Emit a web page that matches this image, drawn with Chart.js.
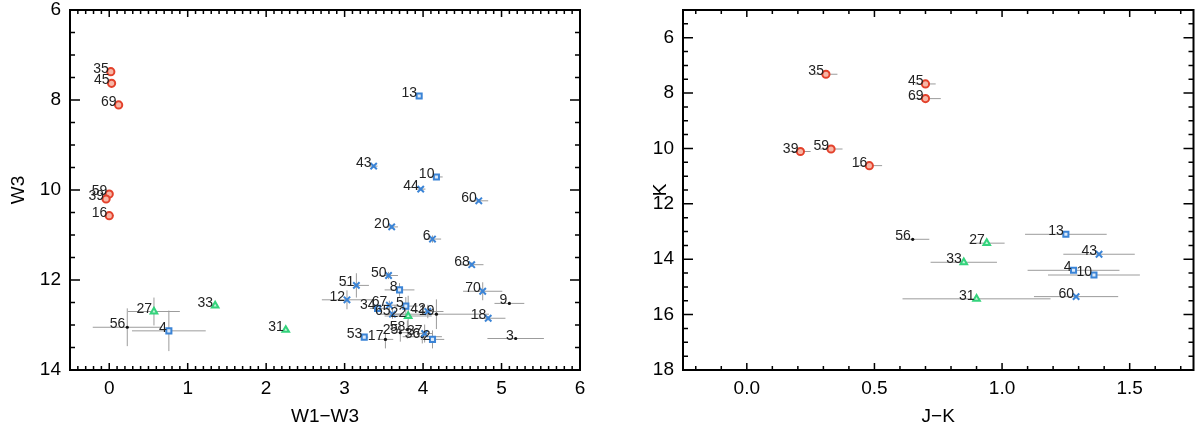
<!DOCTYPE html>
<html>
<head>
<meta charset="utf-8">
<script src="https://cdn.jsdelivr.net/npm/chart.js@4.4.0/dist/chart.umd.min.js"></script>
<style>
  body { margin: 0; background: #fff; }
  #wrap { position: relative; width: 1200px; height: 429px; }
  .box { position: absolute; top: 0; width: 600px; height: 429px; }
</style>
</head>
<body>
<div id="wrap">
  <div class="box" style="left:0"><canvas id="left" width="600" height="429"></canvas></div>
  <div class="box" style="left:600px"><canvas id="right" width="600" height="429"></canvas></div>
</div>
<script>
// ---- left panel: W1-W3 colour vs W3 ----
const w13Ticks = [0, 1, 2, 3, 4, 5, 6];
const w3Ticks = [6, 8, 10, 12, 14];

const redNames = ['35', '45', '69', '59', '39', '16'];
const redW13 = [0.02, 0.03, 0.12, 0.00, -0.04, 0.00];
const redW3 = [7.37, 7.63, 8.11, 10.09, 10.20, 10.57];
const redW13Err = [0.02, 0.02, 0.02, 0.04, 0.03, 0.06];
const redW3Err = [0, 0, 0, 0, 0, 0];

const greenNames = ['27', '33', '31', '22'];
const greenW13 = [0.57, 1.35, 2.25, 3.81];
const greenW3 = [12.70, 12.57, 13.11, 12.80];
const greenW13Err = [0.33, 0.03, 0.03, 0.30];
const greenW3Err = [0.31, 0.02, 0.02, 0.45];

const squareNames = ['13', '10', '8', '5', '34', '53', '2', '4'];
const squareW13 = [3.95, 4.17, 3.70, 3.78, 3.42, 3.25, 4.12, 0.76];
const squareW3 = [7.91, 9.71, 12.22, 12.58, 12.63, 13.27, 13.32, 13.13];
const squareW13Err = [0.02, 0.08, 0.19, 0.15, 0.10, 0.05, 0.15, 0.47];
const squareW3Err = [0.02, 0.05, 0.15, 0.20, 0.10, 0.05, 0.20, 0.45];

const crossNames = ['43', '44', '60', '20', '6', '68', '50', '51', '70', '12', '67', '65', '18', '42', '37'];
const crossW13 = [3.37, 3.97, 4.71, 3.60, 4.12, 4.62, 3.56, 3.15, 4.76, 3.03, 3.57, 3.61, 4.83, 4.06, 4.02];
const crossW3 = [9.47, 9.98, 10.24, 10.82, 11.09, 11.66, 11.90, 12.12, 12.25, 12.44, 12.56, 12.76, 12.85, 12.70, 13.19];
const crossW13Err = [0.05, 0.06, 0.12, 0.08, 0.11, 0.15, 0.12, 0.16, 0.25, 0.32, 0.10, 0.15, 0.22, 0.20, 0.10];
const crossW3Err = [0.03, 0.03, 0.04, 0.05, 0.08, 0.05, 0.08, 0.27, 0.20, 0.21, 0.10, 0.10, 0.05, 0.15, 0.20];

const dotNames = ['56', '9', '3', '19', '17', '25', '58', '36'];
const dotW13 = [0.23, 5.10, 5.18, 4.17, 3.52, 3.71, 3.80, 3.99];
const dotW3 = [13.05, 12.52, 13.30, 12.76, 13.32, 13.17, 13.10, 13.26];
const dotW13Err = [0.44, 0.19, 0.36, 0.67, 0.10, 0.10, 0.15, 0.25];
const dotW3Err = [0.42, 0.02, 0.02, 0.33, 0.20, 0.20, 0.20, 0.15];

// ---- right panel: J-K colour vs K ----
const jkTicks = [0, 0.5, 1, 1.5];
const kTicks = [6, 8, 10, 12, 14, 16, 18];

const redJK = [0.31, 0.70, 0.70, 0.33, 0.21, 0.48];
const redK = [7.32, 7.67, 8.20, 10.02, 10.11, 10.62];
const redJKErr = [0.045, 0.04, 0.06, 0.045, 0.04, 0.05];

const dotNamesR = ['56'];
const dotJK = [0.65];
const dotK = [13.28];
const dotJKErr = [0.065];

const greenNamesR = ['27', '33', '31'];
const greenJK = [0.94, 0.85, 0.90];
const greenK = [13.42, 14.11, 15.43];
const greenJKErr = [0.07, 0.13, 0.29];

const squareNamesR = ['13', '4', '10'];
const squareJK = [1.25, 1.28, 1.36];
const squareK = [13.10, 14.40, 14.57];
const squareJKErr = [0.16, 0.18, 0.18];

const crossNamesR = ['43', '60'];
const crossJK = [1.38, 1.29];
const crossK = [13.82, 15.35];
const crossJKErr = [0.14, 0.165];

const RED = '#e3412b', BLUE = '#3b84d6', GREEN = '#34d37c';

function pts(xs, ys) {
  return xs.map((v, i) => ({ x: v, y: ys[i] }));
}

function zeros(n) {
  return new Array(n).fill(0);
}

function group(names, xs, ys, ex, ey, style) {
  return Object.assign({
    data: pts(xs, ys),
    names: names,
    errX: ex,
    errY: ey || zeros(xs.length),
    pointBorderWidth: 2
  }, style);
}

const redStyle = { pointStyle: 'circle', pointRadius: 3.6, pointBorderColor: RED, pointBackgroundColor: '#f7b6a6' };
const greenStyle = { pointStyle: 'triangle', pointRadius: 3.8, pointBorderColor: GREEN, pointBackgroundColor: '#c4f5da' };
const squareStyle = { pointStyle: 'rect', pointRadius: 3.6, pointBorderColor: BLUE, pointBackgroundColor: '#dbe9f9' };
const crossStyle = { pointStyle: 'crossRot', pointRadius: 4.5, pointBorderColor: BLUE, pointBackgroundColor: BLUE };
const dotStyle = { pointStyle: 'circle', pointRadius: 1.6, pointBorderWidth: 0, pointBorderColor: '#111', pointBackgroundColor: '#111' };

// error bars, point labels and the IDL-like frame with inward ticks
const marks = {
  id: 'marks',
  beforeDatasetsDraw(chart) {
    const { ctx, chartArea: a, scales: { x, y } } = chart;
    ctx.save();
    ctx.beginPath();
    ctx.rect(a.left, a.top, a.right - a.left, a.bottom - a.top);
    ctx.clip();
    ctx.strokeStyle = '#9c9c9c';
    ctx.lineWidth = 1;
    chart.data.datasets.forEach(ds => {
      ds.data.forEach((p, i) => {
        const px = x.getPixelForValue(p.x), py = y.getPixelForValue(p.y);
        const ex = ds.errX[i], ey = ds.errY[i];
        ctx.beginPath();
        if (ex) {
          ctx.moveTo(x.getPixelForValue(p.x - ex), py);
          ctx.lineTo(x.getPixelForValue(p.x + ex), py);
        }
        if (ey) {
          ctx.moveTo(px, y.getPixelForValue(p.y - ey));
          ctx.lineTo(px, y.getPixelForValue(p.y + ey));
        }
        ctx.stroke();
      });
    });
    ctx.restore();
  },
  afterDatasetsDraw(chart) {
    const { ctx, scales: { x, y } } = chart;
    ctx.save();
    ctx.font = '14px "Liberation Sans", Arial, sans-serif';
    ctx.fillStyle = '#222';
    ctx.textAlign = 'right';
    ctx.textBaseline = 'alphabetic';
    chart.data.datasets.forEach(ds => {
      ds.data.forEach((p, i) => {
        ctx.fillText(ds.names[i], x.getPixelForValue(p.x) - 2, y.getPixelForValue(p.y) + 1);
      });
    });
    ctx.restore();
  },
  afterDraw(chart, args, opts) {
    const { ctx, chartArea: a, scales: { x, y } } = chart;
    ctx.save();
    ctx.strokeStyle = '#000';
    ctx.lineWidth = 1.5;
    ctx.beginPath();
    const steps = (scale, major, minor, fn) => {
      const k0 = Math.ceil(scale.min / minor - 1e-6), k1 = Math.floor(scale.max / minor + 1e-6);
      for (let k = k0; k <= k1; k++) {
        const v = k * minor;
        const isMajor = Math.abs(v / major - Math.round(v / major)) < 1e-6;
        fn(scale.getPixelForValue(v), isMajor);
      }
    };
    steps(x, opts.xMajor, opts.xMinor, (p, big) => {
      const len = big ? 7 : 4;
      ctx.moveTo(p, a.bottom); ctx.lineTo(p, a.bottom - len);
      ctx.moveTo(p, a.top); ctx.lineTo(p, a.top + len);
    });
    steps(y, opts.yMajor, opts.yMinor, (p, big) => {
      const len = big ? 10 : 5;
      ctx.moveTo(a.left, p); ctx.lineTo(a.left + len, p);
      ctx.moveTo(a.right, p); ctx.lineTo(a.right - len, p);
    });
    ctx.stroke();
    ctx.lineWidth = 2;
    ctx.strokeRect(a.left, a.top, a.right - a.left, a.bottom - a.top);
    ctx.restore();
  }
};

const tickFont = { family: '"Liberation Sans", Arial, sans-serif', size: 19 };

function fixedTicks(values) {
  return scale => {
    scale.ticks = values.map(v => ({ value: v }));
  };
}

function makeChart(id, datasets, o) {
  return new Chart(document.getElementById(id), {
    type: 'scatter',
    data: { datasets: datasets },
    plugins: [marks],
    options: {
      responsive: false,
      animation: false,
      events: [],
      layout: { padding: { top: 10, right: o.padRight, left: 0, bottom: 0 } },
      plugins: {
        legend: { display: false },
        tooltip: { enabled: false },
        marks: { xMajor: o.xStep, xMinor: o.xMinor, yMajor: 2, yMinor: 0.5 }
      },
      scales: {
        x: {
          type: 'linear',
          min: o.xMin, max: o.xMax,
          grid: { display: false, drawTicks: false },
          border: { display: false },
          afterBuildTicks: fixedTicks(o.xTicks),
          afterFit: s => { s.height = 59; s.paddingLeft = 0; s.paddingRight = 0; },
          ticks: { padding: 7, color: '#000', font: tickFont, maxRotation: 0, autoSkip: false,
                   callback: v => o.xStep < 1 ? v.toFixed(1) : String(v) },
          title: { display: true, text: o.xTitle, color: '#000', font: tickFont, padding: { top: 0, bottom: 1 } }
        },
        y: {
          type: 'linear',
          reverse: true,
          min: o.yMin, max: o.yMax,
          grid: { display: false, drawTicks: false },
          border: { display: false },
          afterBuildTicks: fixedTicks(o.yTicks),
          afterFit: s => { s.width = o.yWidth; s.paddingTop = 0; s.paddingBottom = 0; },
          ticks: { padding: 9, color: '#000', font: tickFont, autoSkip: false },
          title: { display: true, text: o.yTitle, color: '#000', font: tickFont, padding: { top: o.yTitlePad, bottom: 0 } }
        }
      }
    }
  });
}

makeChart('left', [
  group(redNames, redW13, redW3, redW13Err, redW3Err, redStyle),
  group(greenNames, greenW13, greenW3, greenW13Err, greenW3Err, greenStyle),
  group(squareNames, squareW13, squareW3, squareW13Err, squareW3Err, squareStyle),
  group(crossNames, crossW13, crossW3, crossW13Err, crossW3Err, crossStyle),
  group(dotNames, dotW13, dotW3, dotW13Err, dotW3Err, dotStyle)
], { xMin: -0.5, xMax: 6, xStep: 1, xMinor: 0.1, xTicks: w13Ticks, yMin: 6, yMax: 14, yTicks: w3Ticks,
     yWidth: 70, padRight: 20, xTitle: 'W1\u2212W3', yTitle: 'W3', yTitlePad: 7 });

makeChart('right', [
  group(redNames, redJK, redK, redJKErr, null, redStyle),
  group(greenNamesR, greenJK, greenK, greenJKErr, null, greenStyle),
  group(squareNamesR, squareJK, squareK, squareJKErr, null, squareStyle),
  group(crossNamesR, crossJK, crossK, crossJKErr, null, crossStyle),
  group(dotNamesR, dotJK, dotK, dotJKErr, null, dotStyle)
], { xMin: -0.25, xMax: 1.75, xStep: 0.5, xMinor: 0.1, xTicks: jkTicks, yMin: 5, yMax: 18, yTicks: kTicks,
     yWidth: 83, padRight: 6, xTitle: 'J\u2212K', yTitle: 'K', yTitlePad: 49 });
</script>
</body>
</html>
